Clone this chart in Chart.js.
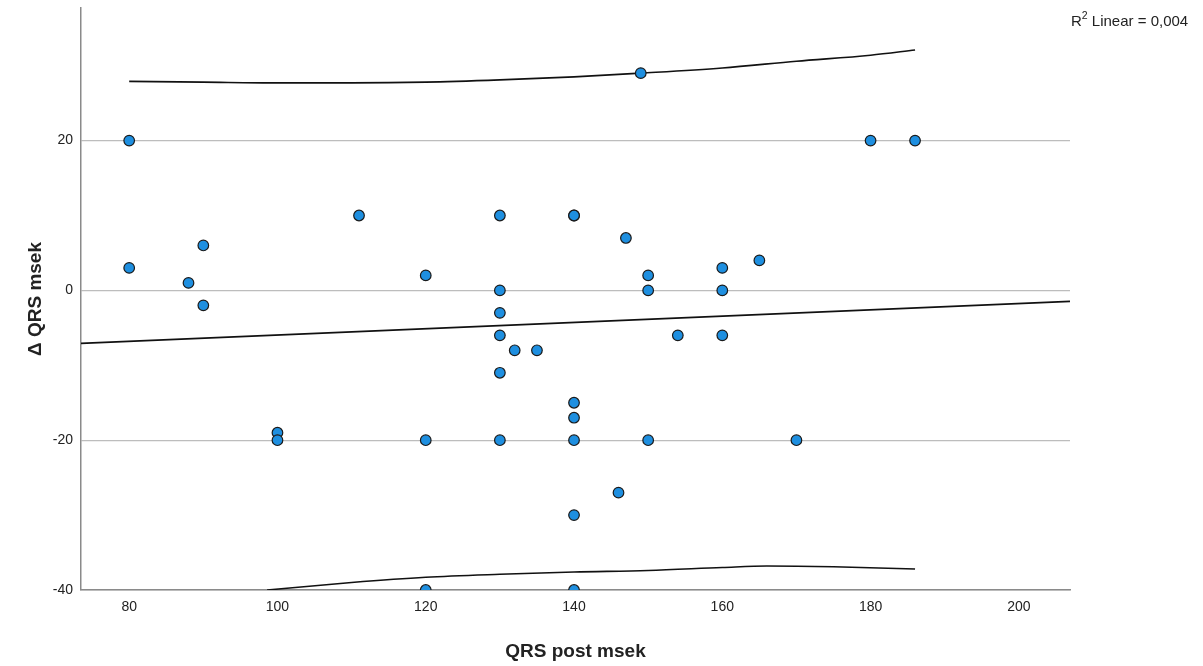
<!DOCTYPE html>
<html>
<head>
<meta charset="utf-8">
<script src="https://cdn.jsdelivr.net/npm/chart.js@4.4.0/dist/chart.umd.min.js"></script>
<style>
  html, body { margin: 0; padding: 0; background: #fff; }
  #wrap { width: 1203px; height: 666px; }
</style>
</head>
<body>
<div id="wrap"><canvas id="scatterChart"></canvas></div>
<script>
const qrsPost = [80, 80, 88, 90, 90, 100, 100, 111, 120, 120, 120, 130, 130, 130, 130, 132, 135, 130, 130,
  140, 140, 140, 140, 140, 140, 140, 147, 146, 149, 150, 150, 150, 154, 160, 160, 160, 165, 170, 180, 186];
const deltaQrs = [20, 3, 1, 6, -2, -19, -20, 10, 2, -20, -40, 10, 0, -3, -6, -8, -8, -11, -20,
  10, 10, -15, -17, -20, -30, -40, 7, -27, 29, 2, 0, -20, -6, 3, 0, -6, 4, -20, 20, 20];

// fit line end points
const fitX = [73.5, 206.9];
const fitY = [-7.07, -1.47];

// prediction band, upper and lower
const upperX = [80, 90, 100, 110, 120, 130, 140, 149, 160, 170, 180, 186];
const upperY = [27.9, 27.8, 27.7, 27.7, 27.8, 28.1, 28.5, 29.0, 29.7, 30.6, 31.4, 32.1];
const lowerX = [98.6, 110, 120, 130, 140, 150, 160, 166, 175, 186];
const lowerY = [-40, -39.0, -38.3, -37.9, -37.6, -37.4, -37.0, -36.8, -36.9, -37.2];

const yTicks = [-40, -20, 0, 20];
const xTicks = [80, 100, 120, 140, 160, 180, 200];

const toPts = (xs, ys) => xs.map((x, i) => ({ x: x, y: ys[i] }));

const fontFamily = '"Liberation Sans", Arial, sans-serif';

const r2Label = {
  id: 'r2Label',
  afterDraw(chart) {
    const c = chart.ctx;
    c.save();
    c.fillStyle = '#222';
    c.textBaseline = 'alphabetic';
    c.textAlign = 'left';
    let x = 1071, y = 26;
    c.font = '15px ' + fontFamily;
    c.fillText('R', x, y);
    x += c.measureText('R').width;
    c.font = '10.5px ' + fontFamily;
    c.fillText('2', x, y - 7);
    x += c.measureText('2').width;
    c.font = '15px ' + fontFamily;
    c.fillText(' Linear = 0,004', x, y);
    c.restore();
  }
};

const ctx = document.getElementById('scatterChart');
const scatterChart = new Chart(ctx, {
  type: 'scatter',
  data: {
    datasets: [
      {
        label: 'QRS',
        data: toPts(qrsPost, deltaQrs),
        backgroundColor: '#1e8fe0',
        borderColor: '#1a1a1a',
        borderWidth: 1.2,
        pointRadius: 5.3,
        order: 0
      },
      {
        type: 'line',
        label: 'fit',
        data: toPts(fitX, fitY),
        borderColor: '#111',
        borderWidth: 1.6,
        pointRadius: 0,
        fill: false,
        order: 1
      },
      {
        type: 'line',
        label: 'upper',
        data: toPts(upperX, upperY),
        borderColor: '#111',
        borderWidth: 1.6,
        pointRadius: 0,
        cubicInterpolationMode: 'monotone',
        fill: false,
        order: 1
      },
      {
        type: 'line',
        label: 'lower',
        data: toPts(lowerX, lowerY),
        borderColor: '#111',
        borderWidth: 1.6,
        pointRadius: 0,
        cubicInterpolationMode: 'monotone',
        fill: false,
        order: 1
      }
    ]
  },
  options: {
    responsive: true,
    maintainAspectRatio: false,
    animation: false,
    layout: { padding: { top: 0, right: 133, left: 0, bottom: 0 } },
    plugins: {
      legend: { display: false },
      tooltip: { enabled: false }
    },
    scales: {
      x: {
        type: 'linear',
        min: 73.5,
        max: 206.9,
        afterBuildTicks: (axis) => { axis.ticks = xTicks.map(v => ({ value: v })); },
        afterFit: (axis) => { axis.height = 76; },
        grid: { display: false, drawTicks: false },
        border: { display: true, color: '#8a8a8a', width: 1.5 },
        ticks: { color: '#222', padding: 9, font: { family: fontFamily, size: 14 } },
        title: {
          display: true,
          text: 'QRS post msek',
          color: '#222',
          padding: { top: 0, bottom: 3 },
          font: { family: fontFamily, size: 19, weight: 'bold' }
        }
      },
      y: {
        type: 'linear',
        min: -40,
        max: 37.7,
        afterBuildTicks: (axis) => { axis.ticks = yTicks.map(v => ({ value: v })); },
        afterFit: (axis) => { axis.width = 81; axis.paddingTop = 8; axis.paddingBottom = 0; },
        grid: { color: '#bdbdbd', lineWidth: 1.2, drawTicks: false },
        border: { display: true, color: '#8a8a8a', width: 1.5 },
        ticks: { color: '#222', padding: 8, font: { family: fontFamily, size: 14 } },
        title: {
          display: true,
          text: 'Δ QRS msek',
          color: '#222',
          padding: { top: 24, bottom: 0 },
          font: { family: fontFamily, size: 19, weight: 'bold' }
        }
      }
    }
  },
  plugins: [r2Label]
});
</script>
</body>
</html>
